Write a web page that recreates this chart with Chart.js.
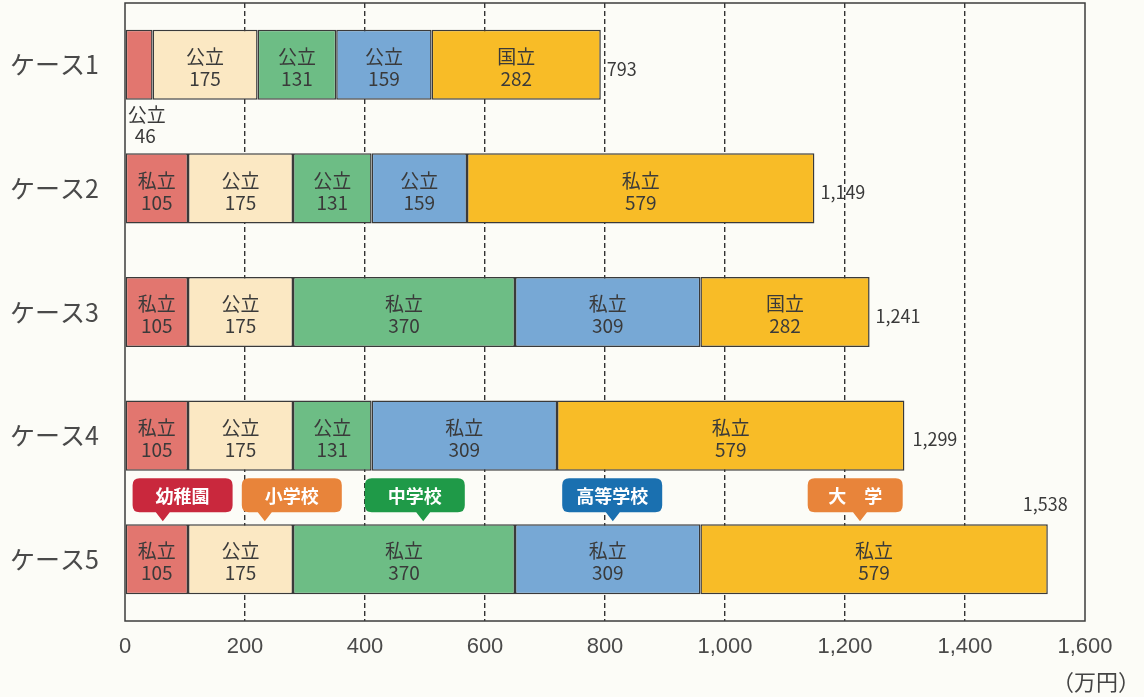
<!DOCTYPE html>
<html lang="ja">
<head>
<meta charset="utf-8">
<title>教育費ケース別</title>
<script src="https://cdn.jsdelivr.net/npm/chart.js@4.4.1/dist/chart.umd.min.js"></script>
<style>
  html, body { margin: 0; padding: 0; background: #fcfcf7; }
  #wrap { width: 1144px; height: 697px; position: relative; }
</style>
</head>
<body>
<div id="wrap"><canvas id="costChart"></canvas></div>
<script>
// ケース名
const cases = ["ケース1", "ケース2", "ケース3", "ケース4", "ケース5"];

// 各段階の費用（万円）
const kindergarten = [46, 105, 105, 105, 105];
const elementary = [175, 175, 175, 175, 175];
const juniorHigh = [131, 131, 370, 131, 370];
const highSchool = [159, 159, 309, 309, 309];
const university = [282, 579, 282, 579, 579];

// 公立・私立・国立の区分
const kindergartenType = ["公立", "私立", "私立", "私立", "私立"];
const elementaryType = ["公立", "公立", "公立", "公立", "公立"];
const juniorHighType = ["公立", "公立", "私立", "公立", "私立"];
const highSchoolType = ["公立", "公立", "私立", "私立", "私立"];
const universityType = ["国立", "私立", "国立", "私立", "私立"];

// 吹き出し
const stageNames = ["幼稚園", "小学校", "中学校", "高等学校", "大　学"];
const stageColors = ["#c9283d", "#e8843a", "#1f9a48", "#1a70b0", "#e8843a"];

const xTicks = [0, 200, 400, 600, 800, 1000, 1200, 1400, 1600];

const types = [kindergartenType, elementaryType, juniorHighType, highSchoolType, universityType];
const JP_FONT = "'Noto Sans CJK JP', 'Noto Sans', sans-serif";

// セグメント内ラベル・合計・吹き出しを描くプラグイン
const labelPlugin = {
  id: "segmentLabels",
  afterDatasetsDraw(chart) {
    const ctx = chart.ctx;
    const area = chart.chartArea;
    const xs = chart.scales.x;

    // 枠
    ctx.save();
    ctx.strokeStyle = "#3d3d3d";
    ctx.lineWidth = 1.5;
    ctx.strokeRect(area.left, area.top, area.right - area.left, area.bottom - area.top);
    ctx.restore();

    ctx.save();
    ctx.textBaseline = "middle";
    chart.data.datasets.forEach((ds, i) => {
      const meta = chart.getDatasetMeta(i);
      meta.data.forEach((bar, j) => {
        const w = Math.abs(bar.x - bar.base);
        const type = types[i][j];
        const val = ds.data[j];
        ctx.fillStyle = "#3a3a3a";
        ctx.font = "19px " + JP_FONT;
        if (w < 45) {
          // 幅が狭いときはバーの下に出す
          ctx.textAlign = "left";
          ctx.fillText(type, bar.base + 2, bar.y + bar.height / 2 + 15);
          ctx.fillText(String(val), bar.base + 9, bar.y + bar.height / 2 + 36);
        } else {
          const cx = (bar.x + bar.base) / 2;
          ctx.textAlign = "center";
          ctx.fillText(type, cx, bar.y - 8);
          ctx.fillText(String(val), cx, bar.y + 14);
        }
      });
    });

    // 合計
    const lastMeta = chart.getDatasetMeta(chart.data.datasets.length - 1);
    ctx.font = "18px " + JP_FONT;
    ctx.fillStyle = "#3a3a3a";
    cases.forEach((c, j) => {
      const total = chart.data.datasets.reduce((s, ds) => s + ds.data[j], 0);
      const bar = lastMeta.data[j];
      const txt = total.toLocaleString("en-US");
      if (j === cases.length - 1) {
        ctx.textAlign = "right";
        ctx.fillText(txt, bar.x + 20, bar.y - bar.height / 2 - 20);
      } else {
        ctx.textAlign = "left";
        ctx.fillText(txt, bar.x + (j === 3 ? 8 : 6), bar.y + 4);
      }
    });

    // 吹き出し（ケース5の上）
    const topBar = lastMeta.data[cases.length - 1];
    const barTop = topBar.y - topBar.height / 2;
    const boxCenters = [96, 278, 483, 812, 1217];
    const pointers = [63, 233, 497, 813, 1225];
    stageNames.forEach((name, k) => {
      const cx = xs.getPixelForValue(boxCenters[k]);
      const px = xs.getPixelForValue(pointers[k]);
      const bw = k === 4 ? 95 : 100, bh = 34, r = 7;
      const bx = cx - bw / 2, by = barTop - 46;
      ctx.fillStyle = stageColors[k];
      ctx.beginPath();
      ctx.moveTo(bx + r, by);
      ctx.lineTo(bx + bw - r, by);
      ctx.quadraticCurveTo(bx + bw, by, bx + bw, by + r);
      ctx.lineTo(bx + bw, by + bh - r);
      ctx.quadraticCurveTo(bx + bw, by + bh, bx + bw - r, by + bh);
      ctx.lineTo(px + 7, by + bh);
      ctx.lineTo(px, by + bh + 9);
      ctx.lineTo(px - 7, by + bh);
      ctx.lineTo(bx + r, by + bh);
      ctx.quadraticCurveTo(bx, by + bh, bx, by + bh - r);
      ctx.lineTo(bx, by + r);
      ctx.quadraticCurveTo(bx, by, bx + r, by);
      ctx.closePath();
      ctx.fill();
      ctx.fillStyle = "#ffffff";
      ctx.textAlign = "center";
      ctx.font = "bold 18px " + JP_FONT;
      ctx.fillText(name, cx, by + bh / 2 + 1);
    });

    // 単位
    ctx.fillStyle = "#444";
    ctx.textAlign = "right";
    ctx.font = "22px " + JP_FONT;
    ctx.fillText("（万円）", 1140, 682);
    ctx.restore();
  }
};

const barBorder = "#3a3a3a";
const makeSet = (label, data, color) => ({
  label,
  data,
  backgroundColor: color,
  borderColor: barBorder,
  borderWidth: 1.5,
  borderSkipped: false,
  barPercentage: 0.567,
  categoryPercentage: 1.0
});

new Chart(document.getElementById("costChart"), {
  type: "bar",
  data: {
    labels: cases,
    datasets: [
      makeSet("幼稚園", kindergarten, "#e2766f"),
      makeSet("小学校", elementary, "#fbe8c3"),
      makeSet("中学校", juniorHigh, "#6dbd85"),
      makeSet("高等学校", highSchool, "#77a8d5"),
      makeSet("大学", university, "#f8bc27")
    ]
  },
  options: {
    indexAxis: "y",
    responsive: true,
    maintainAspectRatio: false,
    animation: false,
    layout: { padding: { top: 3, right: 59, left: 0, bottom: 0 } },
    plugins: {
      legend: { display: false },
      tooltip: { enabled: false }
    },
    scales: {
      x: {
        stacked: true,
        min: 0,
        max: 1600,
        afterBuildTicks: (s) => { s.ticks = xTicks.map((v) => ({ value: v })); },
        afterFit: (s) => { s.height = 76; s.paddingLeft = 0; s.paddingRight = 0; },
        grid: {
          color: (c) => (c.tick && (c.tick.value === 0 || c.tick.value === 1600) ? "rgba(0,0,0,0)" : "#333"),
          lineWidth: 1.4,
          drawTicks: false
        },
        border: { display: false, dash: [5, 3] },
        ticks: {
          padding: 13,
          color: "#4a4a4a",
          font: { family: "'Liberation Sans', Arial, sans-serif", size: 22 },
          callback: (v) => Number(v).toLocaleString("en-US")
        }
      },
      y: {
        stacked: true,
        afterFit: (s) => { s.width = 125; s.paddingTop = 0; s.paddingBottom = 0; },
        grid: { display: false },
        border: { display: false },
        ticks: {
          padding: 18,
          color: "#4a4a4a",
          font: { family: JP_FONT, size: 25 }
        }
      }
    }
  },
  plugins: [labelPlugin]
});
</script>
</body>
</html>
